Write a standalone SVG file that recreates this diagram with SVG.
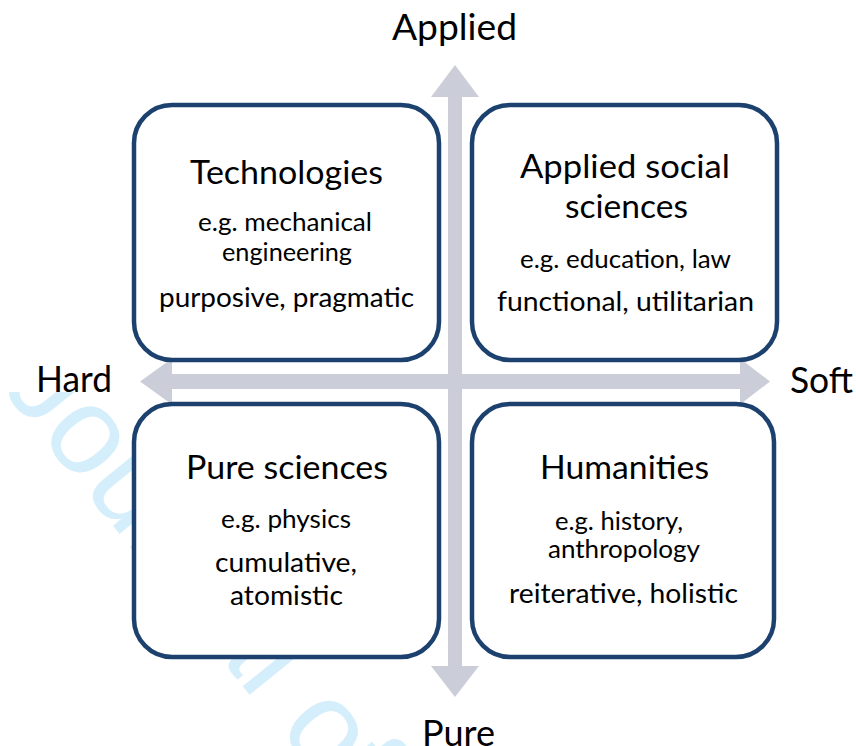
<svg xmlns="http://www.w3.org/2000/svg" width="856" height="746" viewBox="0 0 856 746">
<style>
.t{font-family:Lato,"Liberation Sans",sans-serif;fill:#000;text-anchor:middle}
.title{font-size:33px}
.eg{font-size:25px}
.ch{font-size:27px}
.ax{font-size:36px}
.box{fill:#fff;stroke:#1c416f;stroke-width:4.5}
.arrow{fill:#cbced8}
.wm{font-family:"Liberation Sans",Arial,sans-serif;font-size:124px;fill:#d5eefb}
</style>
<rect width="856" height="746" fill="#fff"/>
<text class="wm" transform="translate(-1,385) rotate(51)">Journal of</text>
<rect x="0" y="336" width="136" height="56" fill="#fff"/>
<g id="connectors">
<polygon class="arrow" points="140,381.5 172,358.5 172,374 740,374 740,358.5 770,381.5 740,404.5 740,389 172,389 172,404.5"/>
<polygon class="arrow" points="455,65 479,97 462,97 462,666 479,666 455,697 431,666 448,666 448,97 431,97"/>
</g>
<g id="technologies">
<rect class="box" x="134" y="105" width="305" height="255" rx="38"/>
<text class="t title" x="286.5" y="184" textLength="193" lengthAdjust="spacingAndGlyphs">Technologies</text>
<text class="t eg" x="285" y="231" textLength="174" lengthAdjust="spacingAndGlyphs">e.g. mechanical</text>
<text class="t eg" x="287" y="261" textLength="130" lengthAdjust="spacingAndGlyphs">engineering</text>
<text class="t ch" x="286.5" y="307" textLength="255" lengthAdjust="spacingAndGlyphs">purposive, pragmatic</text>
</g>
<g id="applied-social-sciences">
<rect class="box" x="472" y="105" width="305" height="255" rx="38"/>
<text class="t title" x="625" y="178" textLength="210" lengthAdjust="spacingAndGlyphs">Applied social</text>
<text class="t title" x="626.5" y="218" textLength="123" lengthAdjust="spacingAndGlyphs">sciences</text>
<text class="t eg" x="625.5" y="268" textLength="211" lengthAdjust="spacingAndGlyphs">e.g. education, law</text>
<text class="t ch" x="625.5" y="311" textLength="257" lengthAdjust="spacingAndGlyphs">functional, utilitarian</text>
</g>
<g id="pure-sciences">
<rect class="box" x="134" y="404" width="305" height="253" rx="38"/>
<text class="t title" x="287" y="479" textLength="202" lengthAdjust="spacingAndGlyphs">Pure sciences</text>
<text class="t eg" x="286" y="528" textLength="130" lengthAdjust="spacingAndGlyphs">e.g. physics</text>
<text class="t ch" x="286" y="572" textLength="142" lengthAdjust="spacingAndGlyphs">cumulative,</text>
<text class="t ch" x="286.5" y="605" textLength="113" lengthAdjust="spacingAndGlyphs">atomistic</text>
</g>
<g id="humanities">
<rect class="box" x="472" y="404" width="302" height="253" rx="38"/>
<text class="t title" x="624.5" y="479" textLength="169" lengthAdjust="spacingAndGlyphs">Humanities</text>
<text class="t eg" x="619" y="530" textLength="128" lengthAdjust="spacingAndGlyphs">e.g. history,</text>
<text class="t eg" x="624" y="558" textLength="152" lengthAdjust="spacingAndGlyphs">anthropology</text>
<text class="t ch" x="623.5" y="603" textLength="229" lengthAdjust="spacingAndGlyphs">reiterative, holistic</text>
</g>
<g id="axis-labels">
<text class="t ax" x="454.5" y="40" textLength="125" lengthAdjust="spacingAndGlyphs">Applied</text>
<text class="t ax" x="458.5" y="746" textLength="73" lengthAdjust="spacingAndGlyphs">Pure</text>
<text class="t ax" x="74" y="392" textLength="76" lengthAdjust="spacingAndGlyphs">Hard</text>
<text class="t ax" x="821.5" y="393" textLength="63" lengthAdjust="spacingAndGlyphs">Soft</text>
</g>
</svg>
